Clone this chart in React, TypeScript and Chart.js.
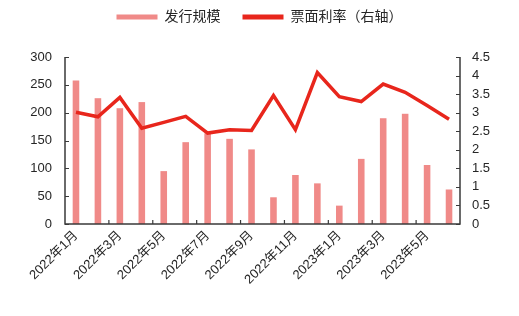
import React, { useEffect, useRef } from 'react';
import { Chart, registerables } from 'chart.js';

Chart.register(...registerables);

const categories = [
  '2022年1月', '2022年2月', '2022年3月', '2022年4月', '2022年5月', '2022年6月',
  '2022年7月', '2022年8月', '2022年9月', '2022年10月', '2022年11月', '2022年12月',
  '2023年1月', '2023年2月', '2023年3月', '2023年4月', '2023年5月', '2023年6月',
];
const issueSize = [258, 226, 208, 219, 95, 147, 163, 153, 134, 48, 88, 73, 33, 117, 190, 198, 106, 62];
const couponRate = [3.01, 2.89, 3.41, 2.58, 2.74, 2.9, 2.45, 2.54, 2.52, 3.46, 2.54, 4.08, 3.43, 3.3, 3.77, 3.55, 3.19, 2.82];
const seriesNames = ['发行规模', '票面利率（右轴）'];

const FONT = '"Liberation Sans", "Noto Sans CJK SC", sans-serif';
const TEXT = '#262626';
const AXIS = '#3a3a3a';
const BAR = '#F08A88';
const LINE = '#E8261C';

const legendMargin = {
  id: 'legendMargin',
  beforeInit(chart: any) {
    const legend = chart.legend;
    if (!legend) return;
    const orig = legend.fit;
    legend.fit = function () {
      orig.bind(legend)();
      legend.height += 23;
    };
  },
};

const axisPlugin = {
  id: 'axisPlugin',
  afterDatasetsDraw(chart: any) {
    const { ctx, chartArea } = chart;
    const { left, right, top, bottom } = chartArea;
    const x = chart.scales.x;
    const yl = chart.scales.y;
    const yr = chart.scales.y1;
    ctx.save();
    ctx.strokeStyle = AXIS;
    ctx.lineWidth = 1.5;
    ctx.beginPath();
    ctx.moveTo(left, top);
    ctx.lineTo(left, bottom);
    ctx.lineTo(right, bottom);
    ctx.lineTo(right, top);
    ctx.stroke();
    ctx.lineWidth = 1.2;
    ctx.beginPath();
    yl.ticks.forEach((t: any) => {
      const py = Math.round(yl.getPixelForValue(t.value)) + 0.5;
      ctx.moveTo(left, py);
      ctx.lineTo(left + 4, py);
    });
    yr.ticks.forEach((t: any) => {
      const py = Math.round(yr.getPixelForValue(t.value)) + 0.5;
      ctx.moveTo(right, py);
      ctx.lineTo(right - 4, py);
    });
    for (let i = 2; i < categories.length; i += 2) {
      const px = (x.getPixelForValue(i - 1) + x.getPixelForValue(i)) / 2;
      ctx.moveTo(px, bottom);
      ctx.lineTo(px, bottom - 4);
    }
    ctx.stroke();
    ctx.restore();
  },
};

export default function App() {
  const ref = useRef<HTMLCanvasElement>(null);
  useEffect(() => {
    document.body.style.margin = '0';
    const chart = new Chart(ref.current as HTMLCanvasElement, {
      type: 'bar',
      data: {
        labels: categories,
        datasets: [
          {
            type: 'bar',
            label: seriesNames[0],
            data: issueSize,
            backgroundColor: BAR,
            borderWidth: 0,
            barPercentage: 0.3,
            categoryPercentage: 1,
            yAxisID: 'y',
            order: 1,
          },
          {
            type: 'line',
            label: seriesNames[1],
            data: couponRate,
            borderColor: LINE,
            backgroundColor: LINE,
            borderWidth: 3.5,
            pointRadius: 0,
            tension: 0,
            yAxisID: 'y1',
            order: 0,
          },
        ] as any,
      },
      options: {
        animation: false,
        responsive: true,
        maintainAspectRatio: false,
        layout: { padding: { top: -12, left: 0, right: 0, bottom: 0 } },
        plugins: {
          tooltip: { enabled: false },
          legend: {
            position: 'top',
            labels: {
              color: TEXT,
              font: { family: FONT, size: 14 },
              boxWidth: 41,
              boxHeight: 5,
              padding: 22,
              generateLabels: (chart: any) =>
                chart.data.datasets.map((d: any, i: number) => ({
                  text: d.label,
                  fillStyle: i === 0 ? BAR : LINE,
                  strokeStyle: i === 0 ? BAR : LINE,
                  lineWidth: 0,
                  fontColor: TEXT,
                  datasetIndex: i,
                  hidden: false,
                })),
            },
          },
        },
        scales: {
          x: {
            offset: true,
            grid: { display: false, drawTicks: false },
            border: { display: false },
            ticks: {
              autoSkip: false,
              maxRotation: 45,
              minRotation: 45,
              color: TEXT,
              padding: 4,
              font: { family: FONT, size: 13 },
              callback: (_v: any, i: number) => (i % 2 === 0 ? categories[i] : ''),
            },
            afterFit: (s: any) => { s.height = 92; },
          },
          y: {
            position: 'left',
            min: 0,
            max: 300,
            grid: { display: false, drawTicks: false },
            border: { display: false },
            ticks: { stepSize: 50, autoSkip: false, color: TEXT, padding: 13, font: { family: FONT, size: 13 } },
            afterFit: (s: any) => { s.width = 65; },
          },
          y1: {
            position: 'right',
            min: 0,
            max: 4.5,
            grid: { display: false, drawTicks: false },
            border: { display: false },
            ticks: {
              stepSize: 0.5,
              autoSkip: false,
              color: TEXT,
              padding: 12,
              font: { family: FONT, size: 13 },
              callback: (v: any) => String(Math.round(Number(v) * 10) / 10),
            },
            afterFit: (s: any) => { s.width = 59; },
          },
        },
      } as any,
      plugins: [legendMargin, axisPlugin],
    });
    return () => chart.destroy();
  }, []);
  return (
    <div style={{ position: 'fixed', left: 0, top: 0, width: 519, height: 316 }}>
      <canvas ref={ref} />
    </div>
  );
}
